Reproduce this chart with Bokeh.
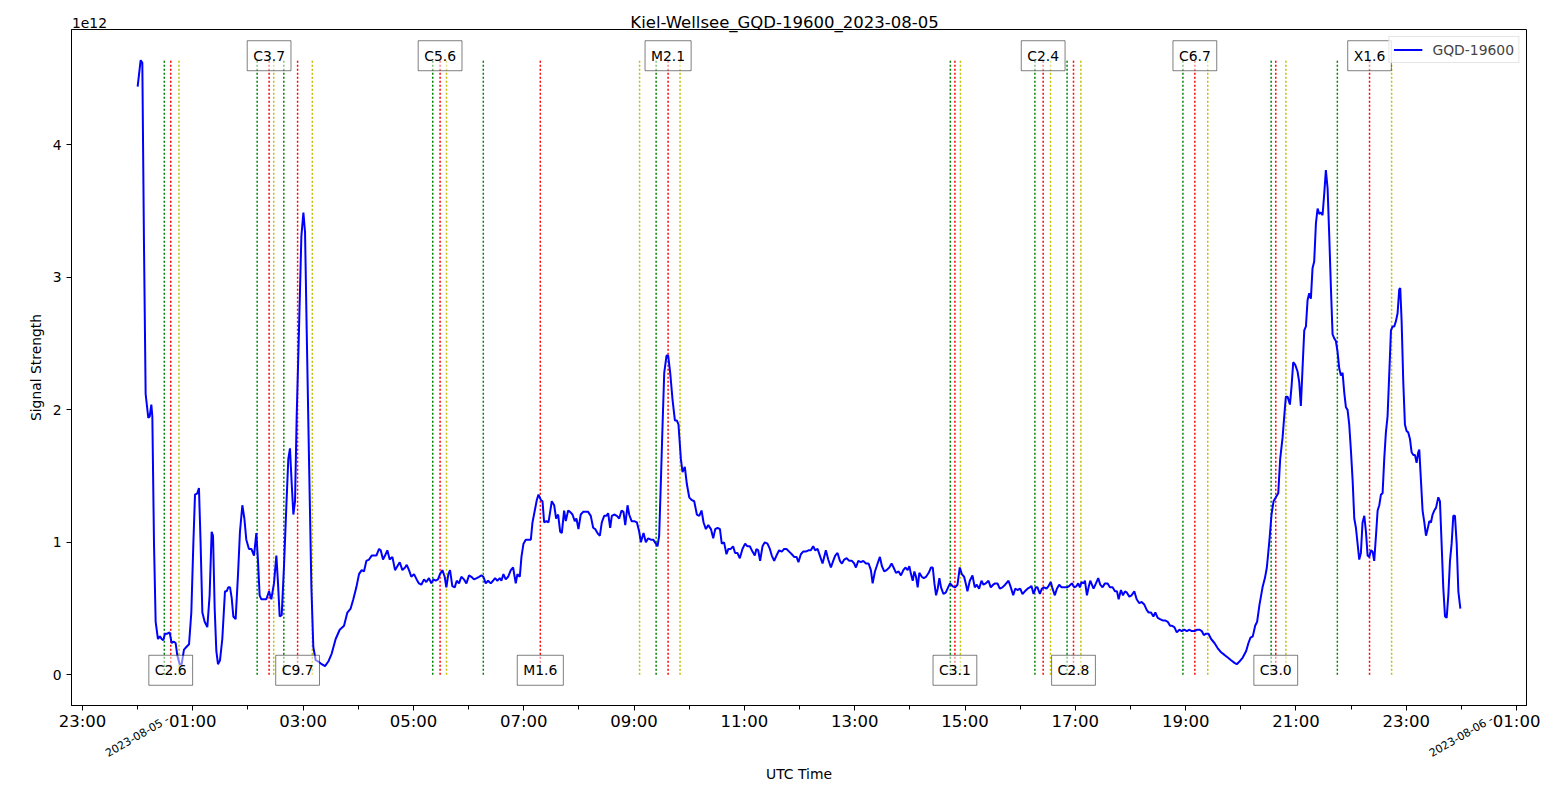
import math
import pandas as pd
from bokeh.plotting import figure
from bokeh.models import (Range1d, FixedTicker, DatetimeTickFormatter, Label, ColumnDataSource,
                          LinearAxis, CustomJSTickFormatter)
from bokeh.embed import file_html
from bokeh.resources import INLINE

# ---------------- data ----------------
DAY = "2023-08-05"
TITLE = "Kiel-Wellsee_GQD-19600_2023-08-05"
SERIES = "GQD-19600"
Y_LABEL = "Signal Strength"
X_LABEL = "UTC Time"
Y_EXPONENT = "1e12"

# (minutes after 00:00 UTC, signal strength in units of 1e12)
readings_0000_0450 = [
    (0, 4.44), (3.3, 4.64), (5.1, 4.62), (6.9, 3.25), (8.7, 2.12), (11.6, 1.94), (13.1, 1.95),
    (14.9, 2.04), (16.0, 1.95), (17.8, 0.99), (19.6, 0.40), (22.1, 0.27), (24.3, 0.29), (26.1, 0.27),
    (27.9, 0.26), (29.7, 0.31), (32.3, 0.31), (34.8, 0.32), (37.0, 0.24), (39.5, 0.25), (41.3, 0.24),
    (43.2, 0.145), (45.7, 0.08), (47.9, 0.08), (50.4, 0.19), (53.0, 0.21), (55.9, 0.23), (58.4, 0.47),
    (60.6, 0.99), (62.4, 1.36), (64.9, 1.37), (66.7, 1.41), (68.5, 0.99), (70.4, 0.47), (72.9, 0.40),
    (75.8, 0.36), (78.3, 0.60), (80.5, 1.08), (82.0, 1.05), (83.8, 0.50), (85.6, 0.18), (87.4, 0.08),
    (89.6, 0.11), (92.1, 0.27), (95.0, 0.63), (96.8, 0.63), (98.6, 0.66), (100.5, 0.66), (102.3, 0.58),
    (104.1, 0.44), (106.6, 0.42), (109.2, 0.76), (111.3, 1.08), (113.9, 1.28), (116.1, 1.18),
    (118.2, 1.02), (121.1, 0.95), (123.7, 0.95), (126.6, 0.90), (129.1, 1.07), (130.9, 0.86),
    (132.7, 0.60), (134.6, 0.57), (137.5, 0.57), (140.0, 0.57), (142.9, 0.63), (145.4, 0.57),
    (148.3, 0.69), (150.9, 0.90), (152.7, 0.69), (154.5, 0.44), (156.7, 0.45), (159.2, 0.82),
    (161.8, 1.28), (163.9, 1.63), (165.7, 1.71), (167.6, 1.44), (169.4, 1.21), (171.2, 1.31),
    (173.0, 1.95), (175.5, 2.60), (178.1, 3.31), (180.3, 3.49), (182.1, 3.34), (183.9, 2.60),
    (186.4, 1.63), (189.0, 0.66), (191.1, 0.21), (193.7, 0.11), (196.6, 0.10), (200.2, 0.08),
    (203.8, 0.065), (207.4, 0.10), (211.1, 0.16), (215.4, 0.27), (219.8, 0.34), (224.5, 0.37),
    (228.1, 0.47), (231.7, 0.50), (234.6, 0.57), (237.9, 0.66), (240.8, 0.76), (243.7, 0.79),
    (246.2, 0.78), (248.8, 0.86), (251.7, 0.87), (254.6, 0.90), (257.1, 0.90), (259.7, 0.90),
    (262.6, 0.95), (264.4, 0.94), (266.9, 0.87), (269.1, 0.90), (271.6, 0.94), (274.2, 0.87),
    (277.1, 0.89), (280.0, 0.79), (282.5, 0.82), (285.1, 0.85), (288.0, 0.79), (290.9, 0.81),
]

readings_0450_1035 = [
    (292.7, 0.83), (295.2, 0.79), (297.7, 0.74), (300.6, 0.76), (303.5, 0.72), (306.0, 0.69),
    (308.6, 0.68), (311.5, 0.72), (314.0, 0.70), (316.9, 0.73), (319.5, 0.69), (321.7, 0.72),
    (324.2, 0.71), (326.7, 0.72), (328.9, 0.76), (331.5, 0.79), (334.0, 0.74), (335.8, 0.66),
    (338.0, 0.76), (339.8, 0.79), (342.3, 0.67), (344.9, 0.66), (347.1, 0.71), (349.6, 0.69),
    (352.1, 0.74), (355.0, 0.72), (357.6, 0.69), (360.5, 0.75), (363.0, 0.74), (365.9, 0.72),
    (368.8, 0.73), (371.4, 0.74), (373.9, 0.75), (376.1, 0.74), (378.6, 0.69), (381.2, 0.71),
    (384.1, 0.69), (386.6, 0.71), (388.8, 0.73), (391.3, 0.71), (393.9, 0.73), (395.7, 0.71),
    (397.9, 0.76), (400.4, 0.72), (403.0, 0.74), (405.9, 0.79), (408.4, 0.81), (411.3, 0.69),
    (413.1, 0.76), (415.7, 0.74), (417.5, 0.89), (419.7, 0.99), (422.2, 1.02), (424.8, 1.02),
    (427.7, 1.02), (429.5, 1.15), (432.0, 1.24), (434.2, 1.32), (436.0, 1.36), (438.6, 1.32),
    (440.4, 1.31), (442.2, 1.15), (444.7, 1.16), (446.9, 1.15), (448.7, 1.23), (450.5, 1.31),
    (453.1, 1.28), (455.2, 1.18), (457.4, 1.21), (459.6, 1.08), (461.4, 1.07), (463.9, 1.24),
    (465.7, 1.16), (468.3, 1.24), (470.4, 1.23), (473.0, 1.21), (475.5, 1.16), (477.3, 1.18),
    (479.5, 1.10), (482.0, 1.21), (484.6, 1.23), (487.5, 1.23), (490.0, 1.23), (492.9, 1.20),
    (495.5, 1.11), (497.7, 1.10), (500.2, 1.07), (502.8, 1.05), (504.9, 1.15), (507.5, 1.20),
    (510.0, 1.20), (511.8, 1.22), (514.0, 1.11), (515.8, 1.20), (518.4, 1.21), (521.3, 1.20),
    (523.8, 1.18), (526.4, 1.24), (528.5, 1.23), (530.4, 1.13), (532.9, 1.28), (534.7, 1.21),
    (537.3, 1.16), (540.2, 1.16), (543.1, 1.15), (545.6, 1.08), (547.4, 1.00), (550.3, 1.07),
    (552.8, 1.00), (555.4, 1.03), (558.3, 1.02), (560.8, 1.02), (563.7, 0.99), (565.5, 0.97),
    (567.3, 1.05), (569.2, 1.47), (571.0, 1.89), (572.8, 2.28), (575.3, 2.41), (577.1, 2.41),
    (579.3, 2.28), (581.8, 2.08), (584.4, 1.92), (586.5, 1.92), (588.3, 1.89), (590.9, 1.63),
    (592.7, 1.53), (595.2, 1.57), (597.4, 1.44), (600.0, 1.34), (602.5, 1.32), (605.4, 1.31),
    (608.3, 1.21), (610.9, 1.20), (613.4, 1.24), (615.6, 1.15), (618.1, 1.10), (620.7, 1.13),
    (623.6, 1.10), (626.1, 1.03), (628.3, 1.10), (630.8, 1.11), (633.4, 1.10),
]

readings_1035_1555 = [
    (635.4, 0.99), (637.9, 1.00), (640.5, 0.91), (642.6, 0.95), (645.2, 0.95), (647.7, 0.97),
    (649.9, 0.92), (652.4, 0.92), (655.0, 0.88), (657.9, 0.95), (660.8, 0.99), (663.3, 0.97),
    (665.9, 0.97), (668.8, 0.93), (671.3, 0.90), (673.1, 0.95), (675.0, 0.94), (677.1, 0.86),
    (679.7, 0.97), (682.2, 1.00), (685.1, 0.99), (687.7, 0.95), (689.8, 0.90), (692.4, 0.86),
    (694.9, 0.90), (697.8, 0.94), (700.7, 0.93), (703.2, 0.95), (705.8, 0.95), (708.7, 0.93),
    (711.6, 0.91), (714.1, 0.89), (716.7, 0.89), (718.8, 0.85), (721.4, 0.91), (723.9, 0.93),
    (726.8, 0.93), (729.7, 0.94), (732.3, 0.94), (734.8, 0.97), (737.0, 0.94), (739.6, 0.95),
    (742.1, 0.90), (745.0, 0.84), (746.8, 0.89), (748.6, 0.94), (751.2, 0.87), (754.1, 0.81),
    (756.6, 0.86), (758.8, 0.90), (761.3, 0.92), (763.9, 0.86), (766.1, 0.84), (768.6, 0.87),
    (771.2, 0.88), (774.1, 0.86), (777.0, 0.86), (779.5, 0.84), (781.3, 0.81), (783.9, 0.86),
    (786.8, 0.85), (789.3, 0.86), (792.2, 0.84), (795.1, 0.84), (797.6, 0.79), (799.5, 0.69),
    (802.0, 0.78), (804.9, 0.84), (807.4, 0.89), (809.6, 0.82), (812.1, 0.78), (814.7, 0.79),
    (817.6, 0.81), (820.1, 0.84), (822.3, 0.81), (824.9, 0.77), (827.8, 0.78), (830.3, 0.75),
    (832.9, 0.79), (835.1, 0.81), (837.6, 0.79), (839.4, 0.82), (841.2, 0.76), (843.1, 0.71),
    (844.9, 0.78), (846.7, 0.74), (848.5, 0.66), (850.3, 0.77), (852.9, 0.74), (855.0, 0.73),
    (857.6, 0.74), (860.5, 0.77), (863.0, 0.81), (864.9, 0.81), (866.7, 0.69), (868.5, 0.60),
    (870.3, 0.65), (872.1, 0.73), (873.9, 0.66), (876.5, 0.61), (879.0, 0.62), (881.6, 0.66),
    (883.7, 0.69), (886.3, 0.67), (889.2, 0.66), (891.8, 0.68), (894.3, 0.81), (896.5, 0.76),
    (899.0, 0.74), (900.8, 0.69), (902.6, 0.63), (905.2, 0.71), (908.1, 0.75), (910.6, 0.66),
    (912.8, 0.68), (915.3, 0.65), (917.9, 0.71), (920.1, 0.68), (922.6, 0.69), (925.5, 0.71),
    (928.0, 0.66), (930.6, 0.68), (932.8, 0.69), (935.3, 0.69), (937.8, 0.65), (940.7, 0.66),
    (943.6, 0.68), (947.3, 0.71), (949.8, 0.66), (952.4, 0.60), (954.6, 0.65),
]

readings_1555_2025 = [
    (957.1, 0.64), (960.0, 0.65), (962.5, 0.61), (965.1, 0.63), (968.0, 0.65), (970.5, 0.66),
    (972.3, 0.67), (974.5, 0.61), (977.0, 0.66), (978.8, 0.66), (981.4, 0.61), (983.6, 0.65),
    (986.1, 0.66), (988.6, 0.65), (990.8, 0.67), (993.3, 0.70), (995.2, 0.65), (997.7, 0.60),
    (999.9, 0.65), (1002.4, 0.68), (1005.0, 0.66), (1007.9, 0.66), (1010.8, 0.66), (1013.3, 0.67),
    (1016.2, 0.69), (1018.8, 0.66), (1021.3, 0.67), (1023.1, 0.69), (1024.9, 0.66), (1026.7, 0.70),
    (1028.9, 0.69), (1030.4, 0.71), (1032.6, 0.60), (1034.4, 0.66), (1036.2, 0.71), (1038.0, 0.68),
    (1039.8, 0.65), (1042.4, 0.69), (1044.9, 0.73), (1047.1, 0.68), (1049.6, 0.66), (1052.2, 0.69),
    (1055.1, 0.69), (1057.6, 0.66), (1060.5, 0.66), (1063.1, 0.63), (1065.3, 0.63), (1067.1, 0.57),
    (1069.6, 0.64), (1071.8, 0.60), (1074.0, 0.63), (1076.1, 0.62), (1078.7, 0.59), (1081.2, 0.60),
    (1084.1, 0.63), (1086.7, 0.57), (1089.6, 0.54), (1092.1, 0.55), (1095.0, 0.53), (1097.6, 0.49),
    (1099.8, 0.47), (1102.3, 0.47), (1104.9, 0.44), (1107.0, 0.47), (1109.6, 0.43), (1112.1, 0.42),
    (1115.0, 0.41), (1117.6, 0.41), (1120.5, 0.40), (1123.0, 0.37), (1125.2, 0.37), (1127.7, 0.36),
    (1130.3, 0.32), (1133.2, 0.34), (1135.7, 0.33), (1138.6, 0.34), (1141.2, 0.33), (1144.1, 0.34),
    (1146.6, 0.33), (1149.5, 0.33), (1152.4, 0.34), (1155.0, 0.34), (1157.5, 0.33), (1159.7, 0.30),
    (1162.2, 0.31), (1164.8, 0.31), (1167.7, 0.27), (1171.3, 0.24), (1174.9, 0.20), (1178.5, 0.17),
    (1182.2, 0.15), (1185.8, 0.13), (1189.4, 0.11), (1193.1, 0.09), (1195.6, 0.08), (1198.5, 0.10),
    (1202.1, 0.13), (1205.8, 0.18), (1208.3, 0.24), (1210.5, 0.28), (1213.0, 0.29), (1215.6, 0.37),
    (1217.7, 0.40), (1220.3, 0.53), (1222.1, 0.60),
]

readings_2025_2400 = [
    (1223.6, 0.66), (1226.2, 0.73), (1228.3, 0.81), (1230.9, 1.00), (1233.4, 1.21), (1235.6, 1.31),
    (1238.1, 1.34), (1240.7, 1.37), (1242.8, 1.63), (1245.4, 1.79), (1247.2, 1.95), (1249.0, 2.10),
    (1250.8, 2.10), (1253.4, 2.04), (1255.2, 2.18), (1257.0, 2.36), (1259.2, 2.34), (1261.7, 2.29),
    (1263.5, 2.21), (1265.3, 2.03), (1267.1, 2.31), (1269.0, 2.60), (1270.8, 2.63), (1272.6, 2.83),
    (1274.4, 2.88), (1276.2, 2.84), (1278.0, 3.07), (1279.8, 3.12), (1281.7, 3.41), (1283.5, 3.52),
    (1285.3, 3.48), (1287.1, 3.49), (1288.9, 3.47), (1290.7, 3.63), (1292.5, 3.81), (1294.4, 3.67),
    (1296.2, 3.31), (1298.0, 2.92), (1299.8, 2.57), (1301.6, 2.54), (1303.4, 2.52), (1305.2, 2.44),
    (1307.1, 2.31), (1308.9, 2.26), (1310.7, 2.28), (1312.5, 2.13), (1314.3, 2.02), (1316.1, 2.00),
    (1317.9, 1.89), (1319.7, 1.70), (1321.6, 1.47), (1323.4, 1.18), (1325.2, 1.11), (1327.0, 0.99),
    (1328.8, 0.87), (1330.6, 0.92), (1332.4, 1.15), (1334.3, 1.20), (1336.1, 1.08), (1337.9, 0.90),
    (1339.7, 0.89), (1341.5, 0.94), (1343.3, 0.93), (1345.1, 0.86), (1347.0, 1.05), (1348.8, 1.24),
    (1350.6, 1.28), (1352.4, 1.36), (1354.2, 1.37), (1356.0, 1.63), (1357.8, 1.83), (1359.6, 1.95),
    (1361.5, 2.28), (1363.3, 2.60), (1365.1, 2.63), (1366.9, 2.63), (1368.7, 2.67), (1370.5, 2.73),
    (1372.3, 2.91), (1373.4, 2.92), (1374.9, 2.67), (1376.7, 2.21), (1378.5, 1.89), (1380.3, 1.84),
    (1382.1, 1.83), (1384.0, 1.78), (1385.8, 1.68), (1387.6, 1.66), (1389.4, 1.66), (1391.2, 1.60),
    (1393.0, 1.68), (1394.1, 1.70), (1395.9, 1.47), (1397.7, 1.24), (1399.6, 1.15), (1401.4, 1.05),
    (1403.2, 1.10), (1405.0, 1.16), (1406.8, 1.15), (1408.6, 1.21), (1410.4, 1.24), (1412.3, 1.26),
    (1414.8, 1.34), (1416.6, 1.31), (1418.4, 0.99), (1420.2, 0.66), (1422.1, 0.44), (1423.9, 0.43),
    (1425.7, 0.60), (1427.5, 0.86), (1429.3, 0.99), (1431.1, 1.20), (1432.9, 1.20), (1434.8, 0.99),
    (1436.6, 0.63), (1438.8, 0.50),
]

# solar flares: class, start, peak, end (UTC)
flare_class = ["C2.6", "C3.7", "C9.7", "C5.6", "M1.6", "M2.1", "C3.1", "C2.4", "C2.8", "C6.7", "C3.0", "X1.6"]
flare_start = ["00:29", "02:10", "02:39", "05:21", "06:16", "09:24", "14:44", "16:16", "16:51", "18:57", "20:33", "21:45"]
flare_peak  = ["00:36", "02:23", "02:54", "05:29", "07:18", "09:37", "14:49", "16:25", "16:58", "19:10", "20:38", "22:20"]
flare_end   = ["00:45", "02:28", "03:10", "05:36", "09:06", "09:50", "14:55", "16:33", "17:06", "19:24", "20:49", "22:44"]

y_ticks = [0, 1, 2, 3, 4]

# ---------------- helpers ----------------
EPOCH = pd.Timestamp("1970-01-01")
ONE_MS = pd.Timedelta(milliseconds=1)
day0 = pd.Timestamp(DAY)


def to_ms(ts):
    return (ts - EPOCH) / ONE_MS


def clock_ms(hhmm):
    return to_ms(pd.Timestamp(f"{DAY} {hhmm}"))


readings = readings_0000_0450 + readings_0450_1035 + readings_1035_1555 + readings_1555_2025 + readings_2025_2400
t_ms = [to_ms(day0 + pd.Timedelta(minutes=m)) for m, _ in readings]
sig = [v for _, v in readings]

major_ticks = [to_ms(t) for t in pd.date_range(day0 - pd.Timedelta(hours=1), day0 + pd.Timedelta(hours=25), freq="2h")]
minor_ticks = [to_ms(t) for t in pd.date_range(day0, day0 + pd.Timedelta(hours=24), freq="2h")]
midnights = [day0, day0 + pd.Timedelta(days=1)]
date_texts = [d.strftime("%Y-%m-%d") + " -" for d in midnights]

# matplotlib-like 5% margins
span = t_ms[-1] - t_ms[0]
xs, xe = t_ms[0] - 0.05 * span, t_ms[-1] + 0.05 * span
ymax = max(sig)
ylo_d = min(0.0, min(sig))
ys, ye = ylo_d - 0.05 * (ymax - ylo_d), ymax + 0.05 * (ymax - ylo_d)

# layout: frame position in page pixels
W, H = 1560, 790
FL, FT, FR, FB = 71, 29, 1526, 705
MS_PER_PX = (xe - xs) / (FR - FL)


def px_x(px):
    return xs + (px - FL) * MS_PER_PX


FONT = "DejaVu Sans"

p = figure(width=W, height=H, x_axis_type="datetime",
           x_range=Range1d(xs, xe), y_range=Range1d(ys, ye),
           output_backend="svg", toolbar_location=None,
           min_border_left=FL, min_border_top=FT,
           min_border_right=W - FR, min_border_bottom=H - FB)
p.background_fill_color = "white"
p.border_fill_color = "white"
p.outline_line_color = "black"
p.outline_line_alpha = 1
p.outline_line_width = 1
p.xgrid.visible = False
p.ygrid.visible = False

# x axis
p.xaxis.ticker = FixedTicker(ticks=major_ticks, minor_ticks=minor_ticks)
fmt = "%H:%M"
p.xaxis.formatter = DatetimeTickFormatter(microseconds=fmt, milliseconds=fmt, seconds=fmt, minsec=fmt,
                                          minutes=fmt, hourmin=fmt, hours=fmt, days=fmt,
                                          months=fmt, years=fmt)
p.xaxis.major_label_text_font = FONT
p.xaxis.major_label_text_font_size = "16.5px"
p.xaxis.major_label_text_color = "black"
p.xaxis.major_tick_out = 5
p.xaxis.major_tick_in = 0
p.xaxis.minor_tick_out = 4
p.xaxis.minor_tick_in = 0
p.xaxis.major_label_standoff = 1
p.xaxis.axis_line_color = "black"

# y axis
p.yaxis.ticker = FixedTicker(ticks=y_ticks, minor_ticks=[])
p.yaxis.major_label_text_font = FONT
p.yaxis.major_label_text_font_size = "13.9px"
p.yaxis.major_label_text_color = "black"
p.yaxis.major_tick_out = 5
p.yaxis.major_tick_in = 0
p.yaxis.major_label_standoff = 5
p.yaxis.axis_label = Y_LABEL
p.yaxis.axis_label_text_font = FONT
p.yaxis.axis_label_text_font_size = "13.9px"
p.yaxis.axis_label_text_font_style = "normal"
p.yaxis.axis_label_standoff = 6
p.yaxis.axis_label_text_color = "black"


def text_axis(ticks, labels, size, standoff, orientation="horizontal"):
    ax = LinearAxis(ticker=FixedTicker(ticks=ticks, minor_ticks=[]),
                    formatter=CustomJSTickFormatter(args=dict(labels=labels), code="return labels[index]"))
    ax.major_tick_out = 0
    ax.major_tick_in = 0
    ax.minor_tick_out = 0
    ax.minor_tick_in = 0
    ax.axis_line_color = None
    ax.major_label_text_font = FONT
    ax.major_label_text_font_size = size
    ax.major_label_text_color = "black"
    ax.major_label_standoff = standoff
    ax.major_label_orientation = orientation
    return ax


# offset text "1e12" and title above the frame
p.add_layout(text_axis([px_x(89)], [Y_EXPONENT], "13.9px", 2), "above")
p.add_layout(text_axis([px_x(784)], [TITLE], "16.5px", -17), "above")

# rotated date labels and x label below
date_ax = text_axis([to_ms(d) + 30.6 * MS_PER_PX for d in midnights], date_texts, "11px", -15,
                    orientation=math.radians(30))
date_ax.axis_label = X_LABEL
date_ax.axis_label_text_font = FONT
date_ax.axis_label_text_font_size = "13.9px"
date_ax.axis_label_text_font_style = "normal"
date_ax.axis_label_text_color = "black"
date_ax.axis_label_standoff = -2
p.add_layout(date_ax, "below")

# flare marker lines (start / peak / end)
vx, vcol = [], []
for s, pk, e in zip(flare_start, flare_peak, flare_end):
    vx += [clock_ms(s), clock_ms(pk), clock_ms(e)]
    vcol += ["#008000", "#ff0000", "#bfbf00"]
vsrc = ColumnDataSource(dict(x=vx, y0=[0.0] * len(vx), y1=[ymax] * len(vx), c=vcol))
p.segment(x0="x", y0="y0", x1="x", y1="y1", line_color="c", line_width=1.5, line_dash="2 2", source=vsrc)

# flare labels, alternating bottom / top
for i, (cls, pk) in enumerate(zip(flare_class, flare_peak)):
    p.add_layout(Label(x=clock_ms(pk), y=(0.0 if i % 2 == 0 else ymax), text=cls,
                       y_offset=4.5,
                       text_align="center", text_baseline="alphabetic",
                       text_font=FONT, text_font_size="13.9px", text_color="black",
                       padding=(6, 7), background_fill_color="white", background_fill_alpha=0.5,
                       border_line_color="black", border_line_alpha=0.5, border_line_width=1))

# signal line
src = ColumnDataSource(dict(t=t_ms, v=sig))
p.line(x="t", y="v", source=src, line_color="#0000ff", line_width=2, legend_label=SERIES)

lg = p.legend[0]
lg.location = "top_right"
lg.margin = 7
lg.padding = 4
lg.spacing = 0
lg.glyph_width = 29
lg.glyph_height = 17
lg.label_height = 17
lg.label_standoff = 10
lg.label_text_font = FONT
lg.label_text_font_size = "13.9px"
lg.border_line_color = "#cccccc"
lg.border_line_width = 1
lg.background_fill_alpha = 0.8

open("out.html", "w").write(file_html(p, INLINE))
